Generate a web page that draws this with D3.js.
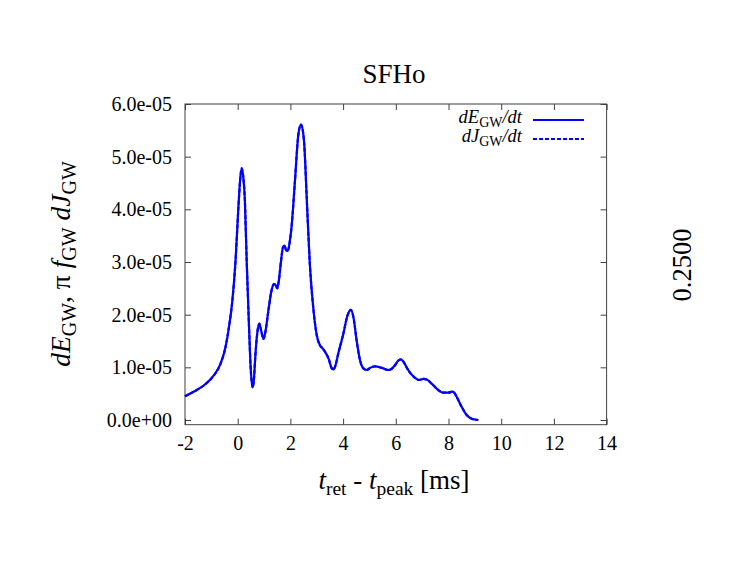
<!DOCTYPE html>
<html>
<head>
<meta charset="utf-8">
<script src="https://cdn.jsdelivr.net/npm/d3@7"></script>
<style>
  html, body { margin: 0; padding: 0; background: #fff; }
  svg { display: block; font-family: "Liberation Serif", "Times New Roman", serif; }
</style>
</head>
<body>
<svg id="chart" width="747" height="578"></svg>
<script>
// time after peak [ms]
const tRet = [-2.0,-1.66,-1.28,-0.90,-0.65,-0.46,-0.33,-0.20,-0.08,0.02,0.10,0.15,0.21,0.27,0.34,0.43,0.49,0.57,0.62,0.66,0.74,0.82,0.88,0.98,1.06,1.16,1.28,1.37,1.43,1.50,1.57,1.64,1.72,1.78,1.84,1.90,1.98,2.05,2.17,2.30,2.40,2.47,2.53,2.62,2.74,2.87,3.0,3.12,3.22,3.31,3.46,3.56,3.63,3.70,3.82,4.01,4.17,4.29,4.40,4.51,4.64,4.77,4.90,5.02,5.21,5.47,5.70,5.80,5.97,6.08,6.20,6.30,6.42,6.54,6.73,6.88,7.05,7.17,7.36,7.61,7.80,7.99,8.15,8.22,8.31,8.50,8.69,8.88,9.00,9.13];
// dE_GW/dt (units of 1e-5)
const dEdt = [0.45,0.54,0.66,0.85,1.07,1.39,1.77,2.28,3.04,3.98,4.60,4.78,4.62,4.20,3.04,1.77,1.01,0.62,0.80,1.14,1.64,1.83,1.72,1.54,1.70,2.06,2.45,2.58,2.57,2.50,2.68,3.0,3.28,3.31,3.22,3.21,3.40,3.70,4.52,5.41,5.61,5.50,5.20,4.21,2.94,2.12,1.61,1.42,1.36,1.30,1.15,0.99,0.96,1.02,1.27,1.64,1.99,2.09,1.93,1.52,1.14,0.98,0.95,0.99,1.02,0.99,0.95,0.96,1.04,1.12,1.15,1.10,0.99,0.90,0.80,0.76,0.78,0.77,0.69,0.57,0.52,0.52,0.54,0.52,0.44,0.25,0.095,0.025,0.01,0.0];
// pi f_GW dJ_GW/dt (units of 1e-5) -- coincides with dE/dt
const piFdJdt = dEdt.slice();

const xTicks = [-2,0,2,4,6,8,10,12,14];
const yTicks = [0,1,2,3,4,5,6];
const yTickLabels = ["0.0e+00","1.0e-05","2.0e-05","3.0e-05","4.0e-05","5.0e-05","6.0e-05"];

const svg = d3.select("#chart");
const L = 185, R = 606.6, T = 104, B = 424.7;
const x = d3.scaleLinear().domain([-2, 14]).range([L, R]);
const y = d3.scaleLinear().domain([-0.089, 6]).range([B, T]);
const frameColor = "#404040";
const tickFont = 20;

// axes with inward ticks
const gx = svg.append("g").attr("transform", `translate(0,${B})`)
  .call(d3.axisBottom(x).tickValues(xTicks).tickSize(-6).tickPadding(0).tickFormat(d => d));
const gxTop = svg.append("g").attr("transform", `translate(0,${T})`)
  .call(d3.axisTop(x).tickValues(xTicks).tickSize(-6).tickFormat(""));
const gy = svg.append("g").attr("transform", `translate(${L},0)`)
  .call(d3.axisLeft(y).tickValues(yTicks).tickSize(-6).tickPadding(0).tickFormat((d,i) => yTickLabels[i]));
const gyR = svg.append("g").attr("transform", `translate(${R},0)`)
  .call(d3.axisRight(y).tickValues(yTicks).tickSize(-6).tickFormat(""));

[gx, gxTop, gy, gyR].forEach(g => {
  g.select(".domain").remove();
  g.selectAll(".tick line").attr("stroke", frameColor).attr("stroke-width", 1);
});
gx.selectAll(".tick text").attr("font-size", tickFont).attr("fill", "#000")
  .attr("font-family", "Liberation Serif").attr("y", 25.5).attr("dy", 0);
gy.selectAll(".tick text").attr("font-size", tickFont).attr("fill", "#000")
  .attr("font-family", "Liberation Serif").attr("x", -13).attr("dy", "0.33em");

svg.append("rect").attr("x", L).attr("y", T).attr("width", R - L).attr("height", B - T)
  .attr("fill", "none").attr("stroke", frameColor).attr("stroke-width", 1);

// curves
const pts = tRet.map((t, i) => [t, dEdt[i]]);
const pts2 = tRet.map((t, i) => [t, piFdJdt[i]]);
const line = d3.line().x(d => x(d[0])).y(d => y(d[1])).curve(d3.curveMonotoneX);
svg.append("path").datum(pts).attr("d", line).attr("fill", "none")
  .attr("stroke", "#0000ff").attr("stroke-width", 2.2).attr("stroke-linejoin", "round");
svg.append("path").datum(pts2).attr("d", line).attr("fill", "none")
  .attr("stroke", "#0000ff").attr("stroke-width", 2.2).attr("stroke-dasharray", "4,2");

// title
svg.append("text").attr("x", 394).attr("y", 83).attr("text-anchor", "middle")
  .attr("font-size", 27).text("SFHo");

// x label
const xl = svg.append("text").attr("x", 394).attr("y", 489).attr("text-anchor", "middle").attr("font-size", 27);
xl.append("tspan").attr("font-style", "italic").text("t");
xl.append("tspan").attr("font-size", 19.5).attr("dy", 6).text("ret");
xl.append("tspan").attr("dy", -6).text(" - ");
xl.append("tspan").attr("font-style", "italic").text("t");
xl.append("tspan").attr("font-size", 19.5).attr("dy", 6).text("peak");
xl.append("tspan").attr("dy", -6).text(" [ms]");

// y label
const yl = svg.append("text").attr("transform", "translate(70,264) rotate(-90)")
  .attr("text-anchor", "middle").attr("font-size", 27.5);
yl.append("tspan").attr("font-style", "italic").text("dE");
yl.append("tspan").attr("font-size", 20).attr("dy", 6).text("GW");
yl.append("tspan").attr("dy", -6).text(", π ");
yl.append("tspan").attr("font-style", "italic").text("f");
yl.append("tspan").attr("font-size", 20).attr("dy", 6).text("GW");
yl.append("tspan").attr("dy", -6).text(" ");
yl.append("tspan").attr("font-style", "italic").text("dJ");
yl.append("tspan").attr("font-size", 20).attr("dy", 6).text("GW");

// right side label
svg.append("text").attr("transform", "translate(691,265) rotate(-90)")
  .attr("text-anchor", "middle").attr("font-size", 26.5).text("0.2500");

// legend
const legend = [
  { name: "dE", dash: null, yy: 120 },
  { name: "dJ", dash: "4,2", yy: 139 }
];
legend.forEach(l => {
  const t = svg.append("text").attr("x", 522).attr("y", l.yy + 3).attr("text-anchor", "end").attr("font-size", 18.5);
  t.append("tspan").attr("font-style", "italic").text(l.name);
  t.append("tspan").attr("font-size", 14).attr("dy", 4).text("GW");
  t.append("tspan").attr("font-style", "italic").attr("dy", -4).text("/dt");
  svg.append("line").attr("x1", 533).attr("x2", 584).attr("y1", l.yy).attr("y2", l.yy)
    .attr("stroke", "#0000ff").attr("stroke-width", 2)
    .attr("stroke-dasharray", l.dash);
});
</script>
</body>
</html>
